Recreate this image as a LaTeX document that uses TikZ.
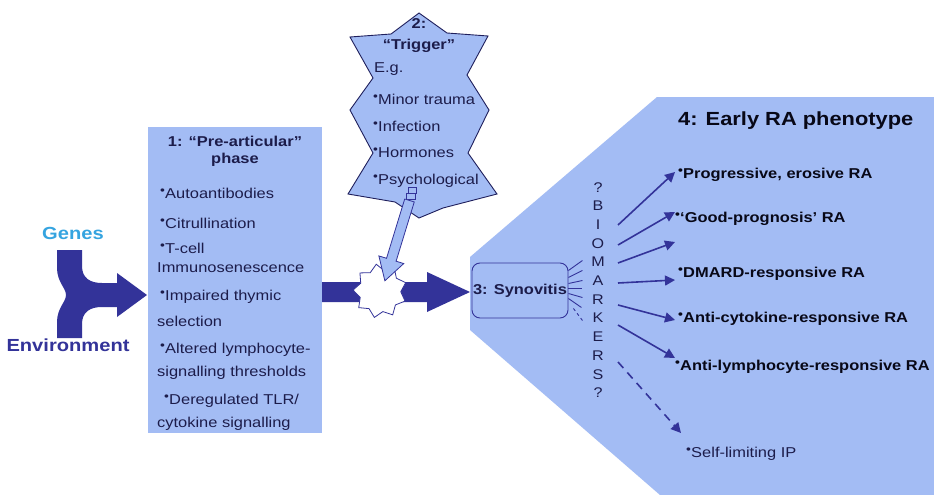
\documentclass[tikz,border=0pt]{standalone}
\usepackage{fontspec}
\setmainfont{Liberation Sans}[FakeStretch=1.15]
\usetikzlibrary{arrows.meta,shapes.geometric}
\definecolor{pale}{HTML}{A3BCF4}
\definecolor{navy}{HTML}{333399}
\definecolor{ink}{HTML}{1C1C4A}
\definecolor{genes}{HTML}{35A4E0}
\newcommand{\bul}{\raisebox{0.45ex}{\fontsize{12}{12}\selectfont •}\kern0.2pt}
\tikzset{
  txt/.style={inner sep=0pt, text=ink, font=\fontsize{14.3}{16}\selectfont, anchor=base west},
  btxt/.style={txt, font=\fontsize{14.3}{16}\selectfont\bfseries},
  rtxt/.style={inner sep=0pt, text=black!85!navy, font=\fontsize{14.3}{16}\selectfont\bfseries, anchor=base west},
  arr/.style={draw=navy, line width=1.6pt, -{Triangle[length=10pt,width=10pt]}},
  ray/.style={draw=navy, line width=0.9pt},
}
\begin{document}
\begin{tikzpicture}[x=1pt,y=-1pt]
\useasboundingbox (0,0) rectangle (934,495);
\fill[white] (0,0) rectangle (934,495);
% phenotype area
\fill[pale] (470,257) -- (657,97) -- (934,97) -- (934,495) -- (660,495) -- (470,330) -- cycle;
% pre-articular box
\node[fill=pale, inner sep=0pt, minimum width=174pt, minimum height=306pt, anchor=north west] (box1) at (148,127) {};
% genes/environment merging arrow
\fill[navy] (57,250) -- (82,250) -- (82,266) .. controls (82,278) and (90,283) .. (102,283) -- (117,283) -- (117,273) -- (147,295) -- (117,317) -- (117,307) -- (102,307) .. controls (90,307) and (82,312) .. (82,324) -- (82,338) -- (57,338) -- (57,322) .. controls (57,308) and (66,302) .. (66,295) .. controls (66,288) and (57,282) .. (57,268) -- cycle;
\node[inner sep=0pt, text=genes, font=\fontsize{17.5}{20}\selectfont\bfseries] (genes) at (73,233) {Genes};
\node[inner sep=0pt, text=navy, font=\fontsize{17.5}{20}\selectfont\bfseries] (env) at (68,345) {Environment};
% box 1 text
\node[btxt, anchor=base] (t1a) at (235,146) {1: “Pre-articular”};
\node[btxt, anchor=base] (t1b) at (235,163) {phase};
\node[txt] (i1) at (160,198) {\bul Autoantibodies};
\node[txt] (i2) at (160,228) {\bul Citrullination};
\node[txt] (i3) at (160,253) {\bul T-cell};
\node[txt] (i3b) at (157,272) {Immunosenescence};
\node[txt] (i4) at (160,300) {\bul Impaired thymic};
\node[txt] (i4b) at (157,326) {selection};
\node[txt] (i5) at (160,353) {\bul Altered lymphocyte-};
\node[txt] (i5b) at (157,376) {signalling thresholds};
\node[txt] (i6) at (164,404) {\bul Deregulated TLR/};
\node[txt] (i6b) at (157,427) {cytokine signalling};
% main arrow
\fill[navy] (322,282) -- (427,282) -- (427,272) -- (470,292) -- (427,312) -- (427,302) -- (322,302) -- cycle;
% burst
\node[star, star points=9, star point ratio=1.3, minimum size=54pt, draw=navy, line width=0.8pt, fill=white, rotate=8, inner sep=0pt] (burst) at (380,291) {};
% trigger star
\filldraw[fill=pale, draw=navy!60!black, line width=0.9pt, line join=miter] (419,13) -- (447,33) -- (488,36) -- (467,75) -- (489,110) -- (468,153) -- (497,194) -- (443,208) -- (419,218) -- (395,202) -- (348,194) -- (373,153) -- (350,110) -- (373,78) -- (350,37) -- (391,34) -- cycle;
\node[btxt, anchor=base] (s1) at (419,29) {2:};
\node[btxt, anchor=base] (s2) at (419,50) {“Trigger”};
\node[txt] (s3) at (374,73) {E.g.};
\node[txt] (s4) at (373,104) {\bul Minor trauma};
\node[txt] (s5) at (373,131) {\bul Infection};
\node[txt] (s6) at (373,157) {\bul Hormones};
\node[txt] (s7) at (373,184) {\bul Psychological};
% striped arrow
\begin{scope}[shift={(413,189)}, x={(-0.293pt,-0.956pt)}, y={(0.956pt,-0.293pt)}]
  \filldraw[fill=pale, draw=navy, line width=0.8pt] (0,-5) rectangle (3.5,5);
  \filldraw[fill=pale, draw=navy, line width=0.8pt] (6,-5) rectangle (9.5,5);
  \filldraw[fill=pale, draw=navy, line width=0.8pt, line join=miter] (12,-5) -- (74,-5) -- (74,-13) -- (96,0) -- (74,13) -- (74,5) -- (12,5) -- cycle;
\end{scope}
% synovitis
\node[draw=navy, line width=0.9pt, fill=pale, rounded corners=8pt, minimum width=96pt, minimum height=55pt, inner sep=0pt, font=\fontsize{14.3}{16}\selectfont\bfseries, text=ink] (syn) at (520,290.5) {3: Synovitis};
\draw[ray] ([yshift=20pt]syn.east) -- ++(14,-10);
\draw[ray] ([yshift=13pt]syn.east) -- ++(14,-7);
\draw[ray] ([yshift=7pt]syn.east) -- ++(14,-3);
\draw[ray] ([yshift=2pt]syn.east) -- ++(14,0);
\draw[ray] ([yshift=-3pt]syn.east) -- ++(14,4);
\draw[ray] ([yshift=-8pt]syn.east) -- ++(13,9);
\draw[ray, dashed] ([xshift=5pt,yshift=-18pt]syn.east) -- ++(9,12);
% biomarkers
\node[inner sep=0pt, align=center, text=ink, font=\fontsize{14}{18.7}\selectfont] (bio) at (598,290) {?\\B\\I\\O\\M\\A\\R\\K\\E\\R\\S\\?};
% phenotype title and labels
\node[rtxt, font=\fontsize{19}{22}\selectfont\bfseries] (title) at (678,125) {4: Early RA phenotype};
\node[rtxt] (p1) at (678,178) {\bul Progressive, erosive RA};
\node[rtxt] (p2) at (675,222) {\bul ‘Good-prognosis’ RA};
\node[rtxt] (p3) at (678,277) {\bul DMARD-responsive RA};
\node[rtxt] (p4) at (678,322) {\bul Anti-cytokine-responsive RA};
\node[rtxt] (p5) at (675,370) {\bul Anti-lymphocyte-responsive RA};
\node[txt, text=ink] (p6) at (686,457) {\bul Self-limiting IP};
% arrows
\coordinate (a1) at (618,225); \coordinate (b1) at (675,172);
\coordinate (a2) at (618,245); \coordinate (b2) at (675,212);
\coordinate (a3) at (618,263); \coordinate (b3) at (675,242);
\coordinate (a4) at (618,283); \coordinate (b4) at (675,280);
\coordinate (a5) at (618,305); \coordinate (b5) at (675,320);
\coordinate (a6) at (618,325); \coordinate (b6) at (675,358);
\coordinate (a7) at (618,362); \coordinate (b7) at (681,433);
\draw[arr] (a1) -- (b1);
\draw[arr] (a2) -- (b2);
\draw[arr] (a3) -- (b3);
\draw[arr] (a4) -- (b4);
\draw[arr] (a5) -- (b5);
\draw[arr] (a6) -- (b6);
\draw[arr, dash pattern=on 8pt off 6pt] (a7) -- (b7);
\end{tikzpicture}
\end{document}
